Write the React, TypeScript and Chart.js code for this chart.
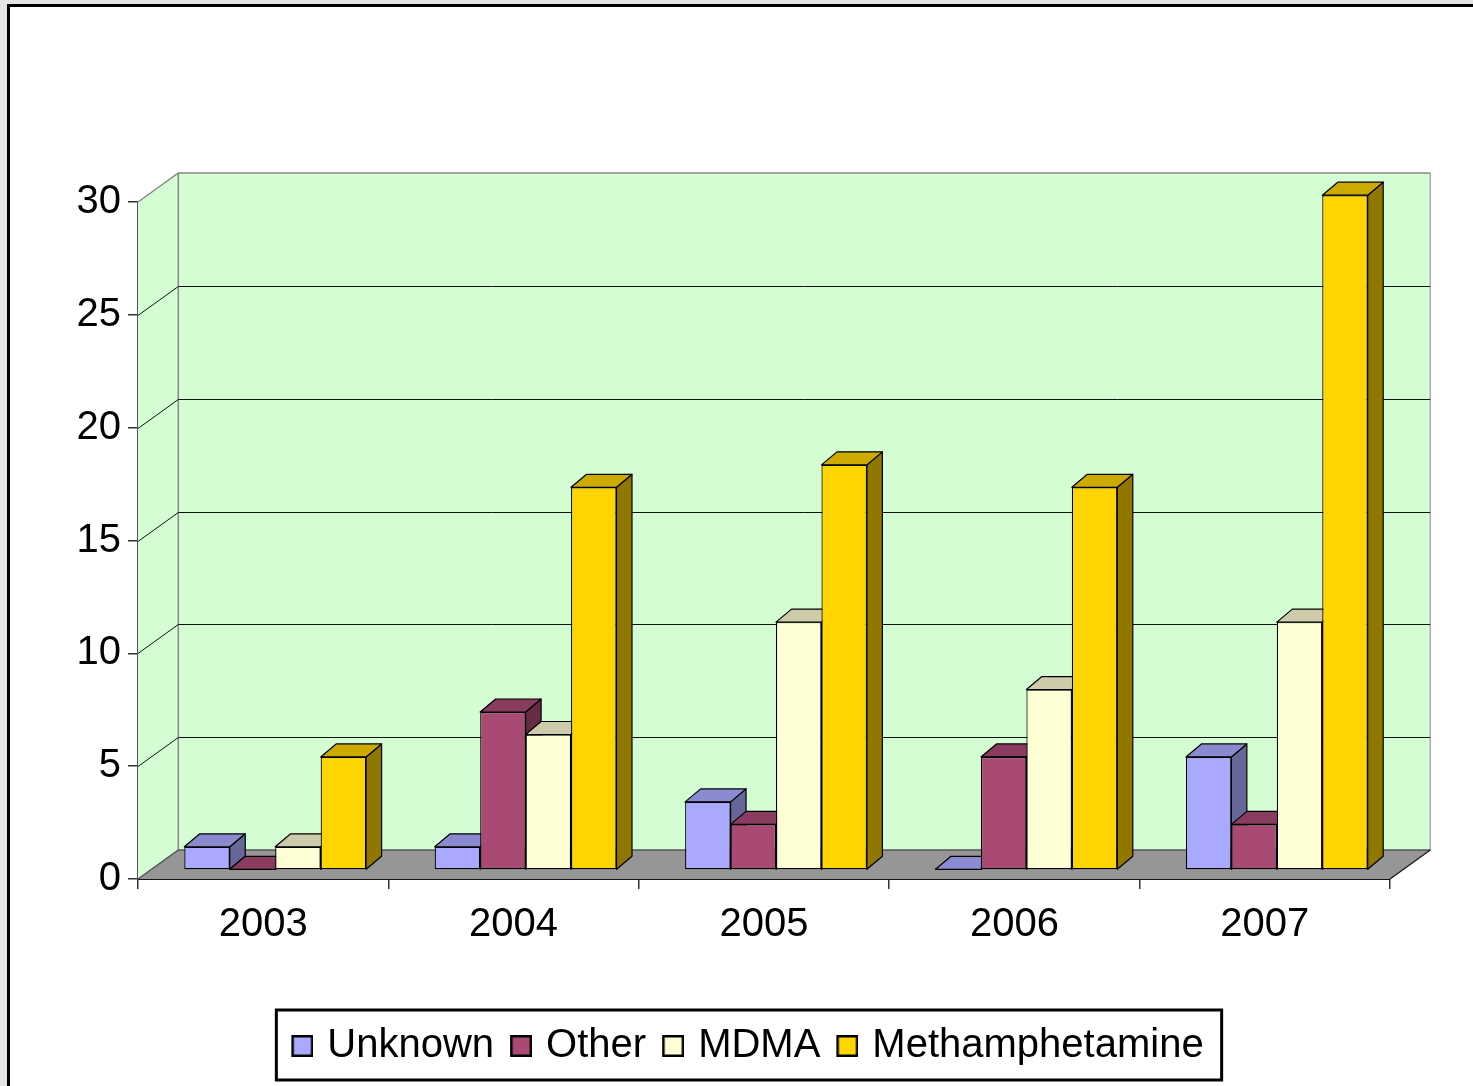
import React, { useEffect, useRef } from "react";
import { Chart, registerables } from "chart.js";

Chart.register(...registerables);

const categories = ["2003", "2004", "2005", "2006", "2007"];
const seriesNames = ["Unknown", "Other", "MDMA", "Methamphetamine"];
const unknownValues = [1, 1, 3, 0, 5];
const otherValues = [0, 7, 2, 5, 2];
const mdmaValues = [1, 6, 11, 8, 11];
const methValues = [5, 17, 18, 17, 30];
const frontColors = ["#a9a9ff", "#a94a75", "#ffffd6", "#ffd500"];
const topColors = ["#8a8ad0", "#8a3c60", "#cdcbaa", "#ccaa00"];
const sideColors = ["#666699", "#662c46", "#99987f", "#8f7700"];
const yTicks = [0, 5, 10, 15, 20, 25, 30];

const WALL_DX = 40.3;
const WALL_DY = 29;
const BAR_SHIFT_X = 12;
const BAR_SHIFT_Y = 9.7;
const BAR_DX = 15.5;
const BAR_DY = 13;
const WALL = "#d4fdd4";
const FLOOR = "#969696";
const FONT = "'Liberation Sans', Arial, sans-serif";
const LEGEND_BOTTOM_GAP = 10;

function legendSwatch(color: string) {
  const c = document.createElement("canvas");
  c.width = 28;
  c.height = 32;
  const g = c.getContext("2d")!;
  g.fillStyle = color;
  g.strokeStyle = "#000";
  g.lineWidth = 2.5;
  g.fillRect(6, 5, 22, 22);
  g.strokeRect(7.25, 6.25, 19.5, 19.5);
  return c;
}

const scene3d = {
  id: "scene3d",
  afterLayout(chart: any) {
    // keep the wide value labels inside the axis' clip box
    chart.scales.y.left = 0;
  },
  beforeDatasetsDraw(chart: any) {
    const { ctx } = chart;
    const x = chart.scales.x;
    const y = chart.scales.y;
    const L = x.left, R = x.right, T = y.top, B = y.bottom;
    ctx.save();
    // back wall
    ctx.fillStyle = WALL;
    ctx.fillRect(L + WALL_DX, T - WALL_DY, R - L, B - T);
    // left wall
    ctx.beginPath();
    ctx.moveTo(L, T);
    ctx.lineTo(L + WALL_DX, T - WALL_DY);
    ctx.lineTo(L + WALL_DX, B - WALL_DY);
    ctx.lineTo(L, B);
    ctx.closePath();
    ctx.fill();
    // wall edges
    ctx.strokeStyle = "#888";
    ctx.lineWidth = 1.5;
    ctx.beginPath();
    ctx.moveTo(L, T);
    ctx.lineTo(L + WALL_DX, T - WALL_DY);
    ctx.lineTo(R + WALL_DX, T - WALL_DY);
    ctx.moveTo(L + WALL_DX, T - WALL_DY);
    ctx.lineTo(L + WALL_DX, B - WALL_DY);
    ctx.stroke();
    ctx.strokeStyle = "#aaa";
    ctx.beginPath();
    ctx.moveTo(R + WALL_DX, T - WALL_DY);
    ctx.lineTo(R + WALL_DX, B - WALL_DY);
    ctx.stroke();
    // grid
    ctx.strokeStyle = "#111";
    ctx.lineWidth = 1;
    yTicks.forEach((v) => {
      if (v === 0 || v === 30) return;
      const py = Math.round(y.getPixelForValue(v));
      ctx.beginPath();
      ctx.moveTo(L, py + 0.5);
      ctx.lineTo(L + WALL_DX, py - WALL_DY + 0.5);
      ctx.lineTo(R + WALL_DX, py - WALL_DY + 0.5);
      ctx.stroke();
    });
    // floor
    ctx.fillStyle = FLOOR;
    ctx.beginPath();
    ctx.moveTo(L, B);
    ctx.lineTo(R, B);
    ctx.lineTo(R + WALL_DX, B - WALL_DY);
    ctx.lineTo(L + WALL_DX, B - WALL_DY);
    ctx.closePath();
    ctx.fill();
    ctx.strokeStyle = "#555";
    ctx.lineWidth = 1.5;
    ctx.beginPath();
    ctx.moveTo(L, B);
    ctx.lineTo(L + WALL_DX, B - WALL_DY);
    ctx.lineTo(R + WALL_DX, B - WALL_DY);
    ctx.stroke();
    ctx.strokeStyle = "#111";
    ctx.lineWidth = 1.2;
    ctx.beginPath();
    ctx.moveTo(R, B);
    ctx.lineTo(R + WALL_DX, B - WALL_DY);
    ctx.stroke();

    // bars, painted left to right in the bar plane
    ctx.translate(BAR_SHIFT_X, -BAR_SHIFT_Y);
    for (let ds = 0; ds < chart.data.datasets.length; ds++) {
      const meta = chart.getDatasetMeta(ds);
      ctx.lineWidth = 1.2;
      ctx.strokeStyle = "#000";
      ctx.lineJoin = "round";
      meta.data.forEach((bar: any) => {
        const l = bar.x - bar.width / 2;
        const r = bar.x + bar.width / 2;
        const t = bar.y;
        const b = bar.base;
        ctx.fillStyle = sideColors[ds];
        ctx.beginPath();
        ctx.moveTo(r, t);
        ctx.lineTo(r + BAR_DX, t - BAR_DY);
        ctx.lineTo(r + BAR_DX, b - BAR_DY);
        ctx.lineTo(r, b);
        ctx.closePath();
        ctx.fill();
        ctx.stroke();
        ctx.fillStyle = topColors[ds];
        ctx.beginPath();
        ctx.moveTo(l, t);
        ctx.lineTo(l + BAR_DX, t - BAR_DY);
        ctx.lineTo(r + BAR_DX, t - BAR_DY);
        ctx.lineTo(r, t);
        ctx.closePath();
        ctx.fill();
        ctx.stroke();
      });
      meta.controller.draw();
    }
    ctx.restore();
    return false;
  },
  afterDraw(chart: any) {
    const { ctx } = chart;
    const hits = chart.legend.legendHitBoxes;
    const first = hits[0];
    const last = hits[hits.length - 1];
    const left = first.left - 15;
    const right = last.left + last.width + 18;
    ctx.save();
    ctx.strokeStyle = "#000";
    ctx.lineWidth = 3;
    ctx.strokeRect(left, 1010, right - left, 70);
    ctx.restore();
  },
};

export default function App() {
  const ref = useRef<HTMLCanvasElement>(null);
  useEffect(() => {
    const values = [unknownValues, otherValues, mdmaValues, methValues];
    const chart = new Chart(ref.current!, {
      type: "bar",
      data: {
        labels: categories,
        datasets: seriesNames.map((name, i) => ({
          label: name,
          data: values[i],
          yAxisID: "yBars",
          backgroundColor: frontColors[i],
          borderColor: "#000",
          borderWidth: 1.2,
          borderSkipped: false,
          categoryPercentage: 0.726,
          barPercentage: 1,
          clip: false,
        })),
      } as any,
      options: {
        animation: false,
        responsive: false,
        devicePixelRatio: 1,
        layout: { padding: { left: 105, right: 83, top: 202, bottom: LEGEND_BOTTOM_GAP } },
        plugins: {
          title: { display: false },
          tooltip: { enabled: false },
          legend: {
            display: true,
            position: "bottom",
            labels: {
              usePointStyle: true,
              pointStyleWidth: 16,
              padding: 16,
              color: "#000",
              font: { family: FONT, size: 40 },
              generateLabels: () =>
                seriesNames.map((name, i) => ({
                  text: name,
                  datasetIndex: i,
                  pointStyle: legendSwatch(frontColors[i]),
                  fontColor: "#000",
                  lineWidth: 0,
                  hidden: false,
                })),
            },
          },
        },
        scales: {
          x: {
            type: "category",
            offset: true,
            grid: {
              display: true,
              drawOnChartArea: false,
              drawTicks: true,
              offset: true,
              tickLength: 10,
              color: "#333",
              lineWidth: 1.5,
            },
            border: { display: true, color: "#111", width: 2 },
            ticks: { color: "#000", padding: 12, maxRotation: 0, font: { family: FONT, size: 40 } },
            afterFit(scale: any) {
              scale.height = 1086 - 879 - LEGEND_BOTTOM_GAP - (scale.chart.legend?.height ?? 70);
              scale.paddingLeft = 0;
              scale.paddingRight = 0;
            },
          },
          y: {
            type: "linear",
            position: "left",
            min: 0,
            max: 30,
            afterBuildTicks(scale: any) {
              scale.ticks = yTicks.map((value) => ({ value }));
            },
            grid: { display: true, drawOnChartArea: false, tickLength: 10, color: "#333", lineWidth: 1.5 },
            border: { display: true, color: "#555", width: 2 },
            ticks: { color: "#000", padding: 7, font: { family: FONT, size: 40 } },
            afterFit(scale: any) {
              scale.width = 33;
              scale.paddingTop = 0;
              scale.paddingBottom = 0;
            },
          },
          yBars: {
            type: "linear",
            display: false,
            min: 0,
            max: 30.13,
          },
        },
      } as any,
      plugins: [scene3d],
    });
    return () => chart.destroy();
  }, []);
  return (
    <div style={{ position: "fixed", left: 0, top: 0, width: 1473, height: 1086, overflow: "hidden", background: "#e4e4e4" }}>
      <div
        style={{
          position: "absolute",
          left: 7,
          top: 4,
          width: 1480,
          height: 1100,
          border: "3px solid #000",
          background: "#fff",
        }}
      />
      <canvas ref={ref} width={1473} height={1086} style={{ position: "absolute", left: 0, top: 0, display: "block" }} />
    </div>
  );
}
